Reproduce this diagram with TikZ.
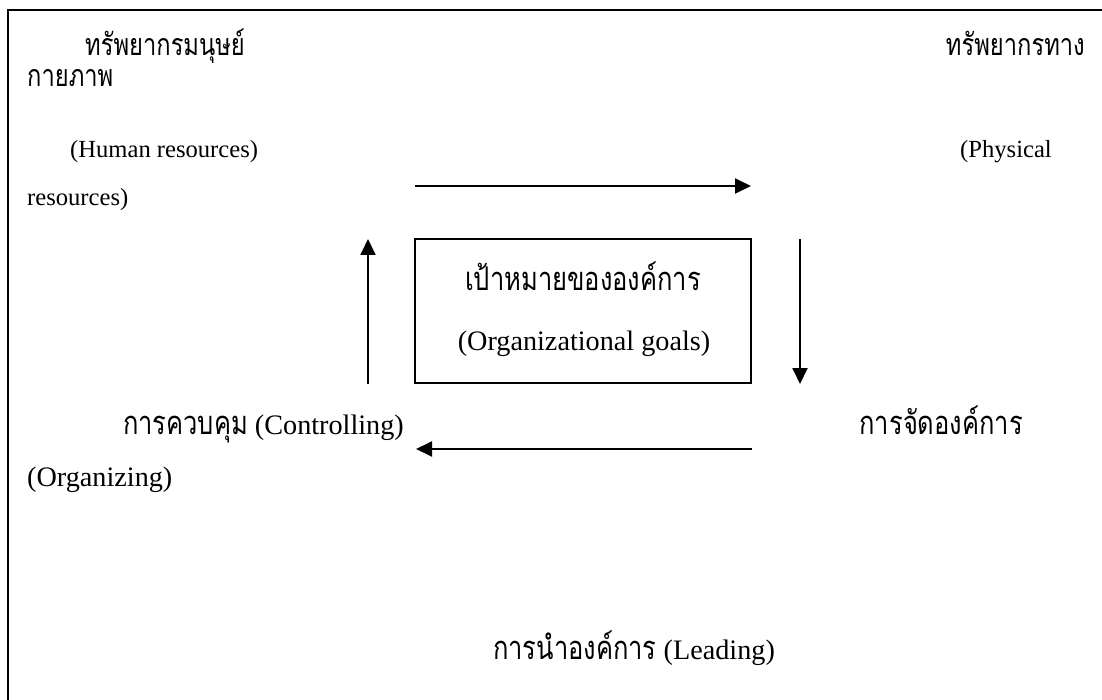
\documentclass[tikz,border=0pt]{standalone}
\usepackage{fontspec}
\setmainfont{Liberation Serif}
\newfontfamily\thaifont[Script=Thai,FakeStretch=0.78]{Loma}
\newcommand{\thS}[1]{{\fontsize{30.4}{34}\selectfont\thaifont #1}}
\newcommand{\thB}[1]{{\fontsize{32.7}{36}\selectfont\thaifont #1}}
\usetikzlibrary{arrows.meta}
\tikzset{
  txt/.style={inner sep=0pt, font=\fontsize{24.6}{29}\selectfont},
  big/.style={inner sep=0pt, font=\fontsize{28.2}{33}\selectfont},
  arr/.style={line width=1.9pt, -{Triangle[length=16pt,width=15pt]}},
  frame/.style={line width=2pt},
  goalbox/.style={draw, line width=1.4pt, minimum width=336pt, minimum height=144pt, inner sep=0pt}
}
\begin{document}
\begin{tikzpicture}[x=1pt,y=-1pt]
\useasboundingbox (0,0) rectangle (1102,700);
\draw[frame] (1102,10) -- (8,10) -- (8,700);
% top-left
\node[txt, anchor=base west] (hr1) at (85,56) {\thS{ทรัพยากรมนุษย์}};
\node[txt, anchor=base west] (hr2) at (27,87) {\thS{กายภาพ}};
\node[txt, anchor=base west] (hr3) at (70,158) {(Human resources)};
\node[txt, anchor=base west] (hr4) at (27,206) {resources)};
% top-right
\node[txt, anchor=base east] (pr1) at (1085,56) {\thS{ทรัพยากรทาง}};
\node[txt, anchor=base west] (pr2) at (960,158) {(Physical};
% center box
\node[goalbox] (goal) at (583,311) {};
\node[big, anchor=base] (g1) at (583,291) {\thB{เป้าหมายขององค์การ}};
\node[big, anchor=base] (g2) at (584,350) {(Organizational goals)};
% bottom labels
\node[big, anchor=base east] (ctl) at (404,434) {\thB{การควบคุม} (Controlling)};
\node[big, anchor=base east] (org1) at (1023,434) {\thB{การจัดองค์การ}};
\node[big, anchor=base west] (org2) at (27,486) {(Organizing)};
\node[big, anchor=base] (lead) at (634,659) {\thB{การนำองค์การ} (Leading)};
% arrow ends
\coordinate (a1s) at (415,186);
\coordinate (a1e) at (751,186);
\coordinate (a2s) at (800,239);
\coordinate (a2e) at (800,384);
\coordinate (a3s) at (752,449);
\coordinate (a3e) at (416,449);
\coordinate (a4s) at (368,384);
\coordinate (a4e) at (368,239);
\draw[arr] (a1s) -- (a1e);
\draw[arr] (a2s) -- (a2e);
\draw[arr] (a3s) -- (a3e);
\draw[arr] (a4s) -- (a4e);
\end{tikzpicture}
\end{document}
